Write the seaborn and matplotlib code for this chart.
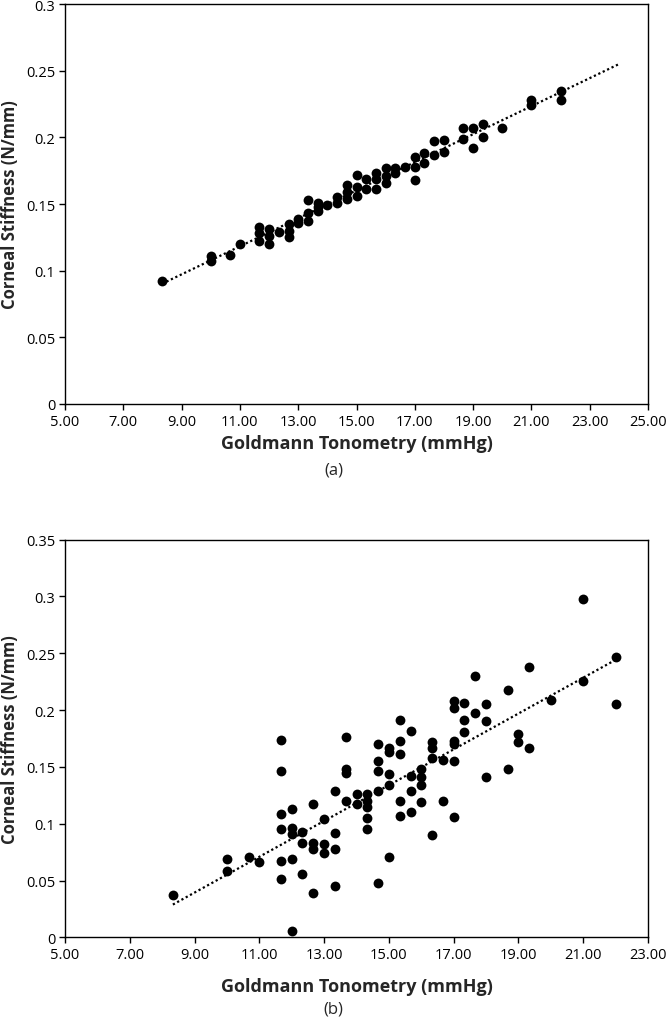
"""
Corneal stiffness against Goldmann tonometry, two scatter panels with dotted linear trendlines.
"""

import numpy as np
import pandas as pd
import seaborn as sns
import matplotlib.pyplot as plt

# Panel (a) values
gat_a = [8.33, 10, 10, 10.67, 11,
         11.67, 11.67, 11.67, 12, 12, 12, 12.33,
         12.67, 12.67, 12.67, 13, 13,
         13.33, 13.33, 13.33, 13.67, 13.67, 13.67, 14,
         14.33, 14.33, 14.67, 14.67, 14.67, 15, 15, 15,
         15.33, 15.33, 15.67, 15.67, 15.67, 16, 16, 16,
         16.33, 16.33, 16.67, 17, 17, 17, 17.33, 17.33,
         17.67, 17.67, 18, 18, 18.67, 18.67, 19, 19,
         19.33, 19.33, 20, 21, 21, 22, 22]
stiff_a = [0.092, 0.111, 0.107, 0.112, 0.120,
           0.133, 0.128, 0.122, 0.131, 0.126, 0.120, 0.129,
           0.135, 0.130, 0.125, 0.139, 0.136,
           0.153, 0.143, 0.137, 0.151, 0.148, 0.145, 0.149,
           0.155, 0.151, 0.164, 0.159, 0.154, 0.172, 0.163, 0.156,
           0.169, 0.161, 0.173, 0.169, 0.161, 0.177, 0.171, 0.166,
           0.177, 0.173, 0.178, 0.185, 0.178, 0.168, 0.188, 0.181,
           0.197, 0.187, 0.198, 0.189, 0.207, 0.199, 0.207, 0.192,
           0.210, 0.200, 0.207, 0.228, 0.224, 0.235, 0.228]

# Panel (b) values
gat_b = [8.33, 10, 10, 10.67, 11,
         11.67, 11.67, 11.67, 11.67, 11.67, 11.67,
         12, 12, 12, 12, 12,
         12.33, 12.33, 12.33,
         12.67, 12.67, 12.67, 12.67,
         13, 13, 13,
         13.33, 13.33, 13.33, 13.33,
         13.67, 13.67, 13.67, 13.67,
         14, 14,
         14.33, 14.33, 14.33, 14.33, 14.33,
         14.67, 14.67, 14.67, 14.67, 14.67,
         15, 15, 15, 15, 15,
         15.33, 15.33, 15.33, 15.33, 15.33,
         15.67, 15.67, 15.67, 15.67,
         16, 16, 16, 16,
         16.33, 16.33, 16.33, 16.33,
         16.67, 16.67,
         17, 17, 17, 17, 17, 17,
         17.33, 17.33, 17.33,
         17.67, 17.67,
         18, 18, 18,
         18.67, 18.67,
         19, 19,
         19.33, 19.33,
         20, 21, 21, 22, 22]
stiff_b = [0.037, 0.069, 0.058, 0.071, 0.066,
           0.174, 0.146, 0.109, 0.095, 0.067, 0.051,
           0.113, 0.096, 0.091, 0.069, 0.006,
           0.093, 0.083, 0.056,
           0.117, 0.083, 0.078, 0.039,
           0.104, 0.082, 0.074,
           0.129, 0.092, 0.078, 0.045,
           0.176, 0.148, 0.145, 0.120,
           0.126, 0.117,
           0.126, 0.120, 0.115, 0.105, 0.095,
           0.170, 0.155, 0.146, 0.129, 0.048,
           0.167, 0.163, 0.144, 0.134, 0.071,
           0.191, 0.173, 0.161, 0.120, 0.107,
           0.182, 0.142, 0.129, 0.110,
           0.148, 0.141, 0.134, 0.119,
           0.172, 0.167, 0.158, 0.090,
           0.156, 0.120,
           0.208, 0.202, 0.173, 0.170, 0.155, 0.106,
           0.206, 0.191, 0.181,
           0.230, 0.197,
           0.205, 0.190, 0.141,
           0.218, 0.148,
           0.179, 0.172,
           0.238, 0.167,
           0.209, 0.298, 0.226, 0.247, 0.205]

FONT = ["Open Sans", "DejaVu Sans"]


def draw_panel(ax, x, y, xmax, ymax, trend_end, xpad):
    df = pd.DataFrame({"gat": x, "stiff": y})
    sns.scatterplot(data=df, x="gat", y="stiff", ax=ax, color="black",
                    s=50, edgecolor="black", linewidth=0, zorder=3)

    # linear trendline, forecast forward like Excel
    slope, icept = np.polyfit(df["gat"], df["stiff"], 1)
    tx = np.array([df["gat"].min(), trend_end])
    ax.plot(tx, slope * tx + icept, color="black", lw=1.6,
            linestyle=(0, (1, 1.2)), zorder=2)

    ax.set_xlim(5, xmax)
    ax.set_ylim(0, ymax)
    xt = np.arange(5, xmax + 0.5, 2)
    ax.set_xticks(xt)
    ax.set_xticklabels([f"{v:.2f}" for v in xt])
    yt = np.round(np.arange(0, ymax + 0.001, 0.05), 2)
    ax.set_yticks(yt)
    ax.set_yticklabels(["0"] + [f"{v:g}" for v in yt[1:]])

    for sp in ax.spines.values():
        sp.set_visible(True)
        sp.set_color("black")
        sp.set_linewidth(1.0)
    ax.tick_params(direction="out", length=4, width=1, color="black",
                   labelsize=10.5, labelcolor="black", bottom=True, left=True,
                   pad=3)
    for lab in ax.get_xticklabels() + ax.get_yticklabels():
        lab.set_family(FONT)

    ax.set_xlabel("Goldmann Tonometry (mmHg)", fontsize=13, fontweight="bold",
                  family=FONT, labelpad=xpad)
    ax.set_ylabel("Corneal Stiffness (N/mm)", fontsize=12, fontweight="bold",
                  family=FONT, labelpad=5)


def main():
    sns.set_style("white")
    plt.rcParams["font.family"] = FONT

    fig = plt.figure(figsize=(6.67, 10.2), dpi=100)
    ax_a = fig.add_axes([0.0975, 0.603, 0.874, 0.392])
    ax_b = fig.add_axes([0.0975, 0.080, 0.874, 0.390])

    draw_panel(ax_a, gat_a, stiff_a, 25, 0.3, 24, 4)
    draw_panel(ax_b, gat_b, stiff_b, 23, 0.35, 22, 11)

    fig.text(0.5, 0.539, "(a)", ha="center", va="center", fontsize=12, family=FONT)
    fig.text(0.5, 0.010, "(b)", ha="center", va="center", fontsize=12, family=FONT)

    fig.savefig("out.png", dpi=100)
    plt.close(fig)


if __name__ == "__main__":
    main()
